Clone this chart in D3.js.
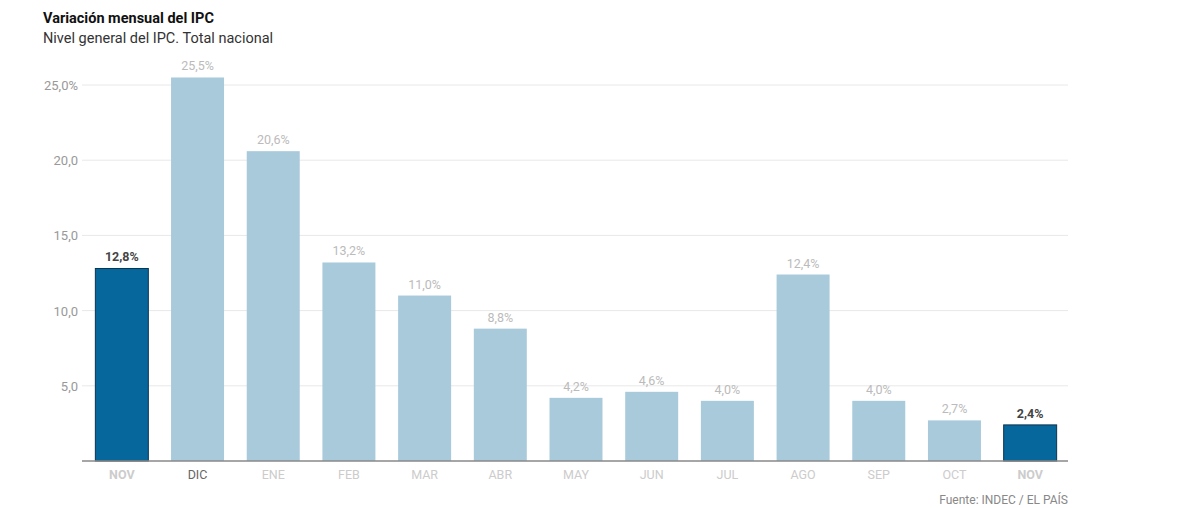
<!DOCTYPE html>
<html><head><meta charset="utf-8">
<script src="https://cdn.jsdelivr.net/npm/d3@7"></script>
<style>body{margin:0;background:#fff;font-family:Roboto,"Liberation Sans",sans-serif}</style>
</head><body><svg id="c" width="1200" height="508"></svg>
<script>
const categories=["NOV","DIC","ENE","FEB","MAR","ABR","MAY","JUN","JUL","AGO","SEP","OCT","NOV"];
const values=[12.8,25.5,20.6,13.2,11.0,8.8,4.2,4.6,4.0,12.4,4.0,2.7,2.4];
const highlight=[true,false,false,false,false,false,false,false,false,false,false,false,true];
const ticks=[5,10,15,20,25];
const svg=d3.select("#c");
const keys=categories.map((c,i)=>i);
const x=d3.scaleBand().domain(keys).range([84,1068]).paddingInner(0.3).paddingOuter(0.15);
const y=d3.scaleLinear().domain([0,25]).range([461,85]);
const fmt=v=>v.toFixed(1).replace(".",",");
svg.append("text").attr("x",43).attr("y",23).attr("font-size",14.5).attr("font-weight",700).attr("fill","#111").text("Variación mensual del IPC");
svg.append("text").attr("x",43).attr("y",43).attr("font-size",14.5).attr("fill","#333").text("Nivel general del IPC. Total nacional");
ticks.forEach(t=>{
 svg.append("line").attr("x1",82).attr("x2",1068).attr("y1",y(t)).attr("y2",y(t)).attr("stroke","#e8e8e8");
 svg.append("text").attr("x",78).attr("y",y(t)+5).attr("text-anchor","end").attr("font-size",13).attr("fill","#999").text(fmt(t)+(t===25?"%":""));
});
keys.forEach(i=>{
 const h=highlight[i];
 svg.append("rect").attr("x",x(i)).attr("width",x.bandwidth()).attr("y",y(values[i])).attr("height",y(0)-y(values[i]))
  .attr("fill",h?"#06679c":"#a8cadb").attr("stroke",h?"#0b3550":"none").attr("stroke-width",1);
 svg.append("text").attr("x",x(i)+x.bandwidth()/2).attr("y",y(values[i])-7).attr("text-anchor","middle")
  .attr("font-size",12.5).attr("font-weight",h?700:400).attr("fill",h?"#444":"#bbb").text(fmt(values[i])+"%");
 svg.append("text").attr("x",x(i)+x.bandwidth()/2).attr("y",479).attr("text-anchor","middle")
  .attr("font-size",12.5).attr("font-weight",h?700:400).attr("fill",i===1?"#666":"#ccc").text(categories[i]);
});
svg.append("line").attr("x1",82).attr("x2",1068).attr("y1",461).attr("y2",461).attr("stroke","#888").attr("stroke-width",1.5);
svg.append("text").attr("x",1068).attr("y",504).attr("text-anchor","end").attr("font-size",12).attr("fill","#888").text("Fuente: INDEC / EL PAÍS");
</script></body></html>
